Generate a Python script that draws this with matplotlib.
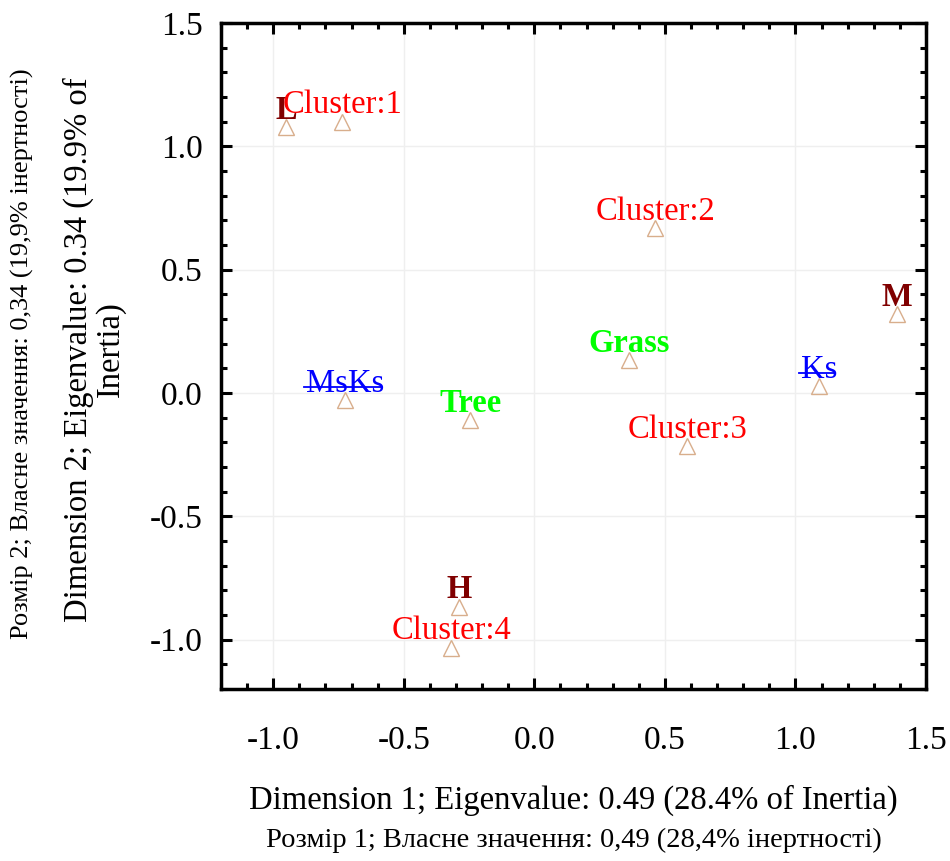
import matplotlib
matplotlib.use("Agg")
import matplotlib.pyplot as plt
from matplotlib.lines import Line2D
from matplotlib.ticker import MultipleLocator

plt.rcParams['font.family'] = ['Liberation Serif', 'DejaVu Serif']

# coordinates of row/column categories on the first two dimensions
labels = ['L', 'Cluster:1', 'Cluster:2', 'M', 'Grass', 'Ks', 'MsKs', 'Tree',
          'Cluster:3', 'H', 'Cluster:4']
dim1 = [-0.95, -0.735, 0.464, 1.39, 0.364, 1.09, -0.724, -0.245, 0.586, -0.287, -0.318]
dim2 = [1.077, 1.10, 0.668, 0.32, 0.134, 0.028, -0.028, -0.109, -0.215, -0.866, -1.032]
groups = ['level', 'cluster', 'cluster', 'level', 'cover', 'soil', 'soil', 'cover',
          'cluster', 'level', 'cluster']

group_style = {
    'cluster': dict(color='#FF0000', fontweight='normal'),
    'level': dict(color='#800000', fontweight='bold'),
    'cover': dict(color='#00FF00', fontweight='bold'),
    'soil': dict(color='#0000FF', fontweight='normal'),
}

fig = plt.figure(figsize=(9.5, 8.61), dpi=100)
ax = fig.add_axes([0.2326, 0.1998, 0.7421, 0.7735])

ax.set_xlim(-1.2, 1.5)
ax.set_ylim(-1.2, 1.5)
ax.xaxis.set_major_locator(MultipleLocator(0.5))
ax.yaxis.set_major_locator(MultipleLocator(0.5))
ax.xaxis.set_minor_locator(MultipleLocator(0.1))
ax.yaxis.set_minor_locator(MultipleLocator(0.1))
ax.xaxis.set_major_formatter(lambda v, p: f'{v:.1f}')
ax.yaxis.set_major_formatter(lambda v, p: f'{v:.1f}')

ax.grid(True, which='major', color='#EFEFEF', linewidth=1.0)
ax.set_axisbelow(True)
for sp in ax.spines.values():
    sp.set_linewidth(2.5)

ax.tick_params(which='both', direction='in', top=True, right=True, width=2.2)
ax.tick_params(which='major', length=8, labelsize=24)
ax.tick_params(which='minor', length=4)
ax.tick_params(axis='x', which='major', pad=26)
ax.tick_params(axis='y', which='major', pad=13)

ax.plot(dim1, dim2, linestyle='none', marker='^', markersize=12,
        markerfacecolor='none', markeredgecolor='#D8AE8C', markeredgewidth=1.0,
        zorder=3)

texts = []
for lab, x, y, g in zip(labels, dim1, dim2, groups):
    t = ax.annotate(lab, (x, y), xytext=(0, 6), textcoords='offset points',
                    ha='center', va='baseline', fontsize=23.5, zorder=4,
                    **group_style[g])
    texts.append((t, g))

ax.text(0.5, -0.167, 'Dimension 1; Eigenvalue: 0.49 (28.4% of Inertia)',
        transform=ax.transAxes, ha='center', va='center', fontsize=23.5)
ax.text(0.5, -0.227, 'Розмір 1; Власне значення: 0,49 (28,4% інертності)',
        transform=ax.transAxes, ha='center', va='center', fontsize=20.5)
ax.text(-0.18, 0.51, 'Dimension 2; Eigenvalue: 0.34 (19.9% of\nInertia)',
        transform=ax.transAxes, ha='center', va='center', rotation=90,
        fontsize=23.5, linespacing=1.05, multialignment='center')
ax.text(-0.282, 0.503, 'Розмір 2; Власне значення: 0,34 (19,9% інертності)',
        transform=ax.transAxes, ha='center', va='center', rotation=90, fontsize=19)

# strike-through on the soil labels
fig.canvas.draw()
renderer = fig.canvas.get_renderer()
W, H = fig.bbox.width, fig.bbox.height
for t, g in texts:
    if g != 'soil':
        continue
    bb = t.get_window_extent(renderer)
    ys = bb.y0 + 0.38 * bb.height
    fig.add_artist(Line2D([(bb.x0 - 2) / W, (bb.x1 - 3) / W], [ys / H, ys / H],
                          transform=fig.transFigure, color='#0000FF', linewidth=1.3))

fig.savefig('out.png', dpi=100)
